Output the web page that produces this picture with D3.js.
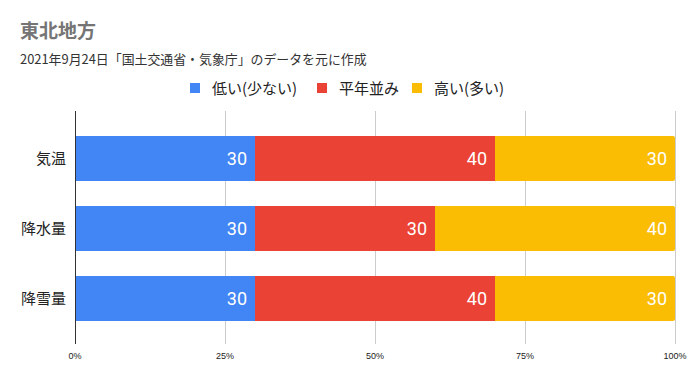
<!DOCTYPE html>
<html>
<head>
<meta charset="utf-8">
<script src="https://cdn.jsdelivr.net/npm/d3@7"></script>
<style>
  body { margin: 0; background: #fff; }
  svg { font-family: "Noto Sans CJK JP", Roboto, Arial, sans-serif; }
</style>
</head>
<body>
<div class="chart"></div>
<script>
const categories = ["気温", "降水量", "降雪量"]
const series_names = ["低い(少ない)", "平年並み", "高い(多い)"]
const series_colors = ["#4285F4", "#EA4335", "#FBBC04"]
const low_values = [30, 30, 30]
const normal_values = [40, 30, 40]
const high_values = [30, 40, 30]
const x_ticks = [0, 0.25, 0.5, 0.75, 1]

const W = 695, H = 382

const svg = d3.select(".chart").append("svg")
    .attr("width", W)
    .attr("height", H)

// title
svg.append("text")
    .attr("x", 20).attr("y", 38)
    .attr("font-size", 19).attr("font-weight", "bold")
    .attr("fill", "#757575")
    .text("東北地方")

svg.append("text")
    .attr("x", 20).attr("y", 64)
    .attr("font-size", 12.9).attr("fill", "#333")
    .text("2021年9月24日「国土交通省・気象庁」のデータを元に作成")

// legend
const legend_x = [190, 317, 412]
series_names.forEach((name, i) => {
    const g = svg.append("g").attr("transform", `translate(${legend_x[i]},83)`)
    g.append("rect").attr("width", 10).attr("height", 10).attr("fill", series_colors[i])
    g.append("text").attr("x", 22).attr("y", 10.5)
        .attr("font-size", 15).attr("fill", "#222")
        .text(name)
})

const rows = categories.map((c, i) => {
    const vals = [low_values[i], normal_values[i], high_values[i]]
    const total = d3.sum(vals)
    let acc = 0
    return {
        cat: c,
        segs: vals.map((v, k) => {
            const s = { k: k, v: v, x0: acc / total, x1: (acc + v) / total }
            acc += v
            return s
        })
    }
})

const x = d3.scaleLinear().domain([0, 1]).range([75, 675])
const y = d3.scaleBand().domain(categories).range([123.5, 333.5])
    .paddingInner(25 / 70).paddingOuter(12.5 / 70)

// gridlines
svg.append("g")
    .selectAll("line")
    .data(x_ticks.slice(1))
    .enter()
    .append("line")
    .attr("x1", d => x(d) + 0.5).attr("x2", d => x(d) + 0.5)
    .attr("y1", 111).attr("y2", 344)
    .attr("stroke", "#ccc")

// bars
const bar_g = svg.append("g")
rows.forEach(r => {
    r.segs.forEach(s => {
        const x0 = x(s.x0), x1 = x(s.x1), yy = y(r.cat), h = y.bandwidth()
        if (s.k == 2) {
            const rr = 2
            bar_g.append("path")
                .attr("d", `M${x0},${yy}H${x1 - rr}Q${x1},${yy} ${x1},${yy + rr}V${yy + h - rr}Q${x1},${yy + h} ${x1 - rr},${yy + h}H${x0}Z`)
                .attr("fill", series_colors[s.k])
        } else {
            bar_g.append("rect")
                .attr("x", x0).attr("y", yy)
                .attr("width", x1 - x0).attr("height", h)
                .attr("fill", series_colors[s.k])
        }
        bar_g.append("text")
            .attr("x", x1 - 8).attr("y", yy + h / 2 + 6.5)
            .attr("text-anchor", "end")
            .style("font-family", "Roboto, Arial, sans-serif")
            .attr("font-size", 18).attr("fill", "#fff")
            .text(s.v)
    })
})

// baseline axis
svg.append("line")
    .attr("x1", 75.5).attr("x2", 75.5)
    .attr("y1", 111).attr("y2", 344)
    .attr("stroke", "#333")

// category labels
svg.append("g")
    .selectAll("text")
    .data(categories)
    .enter()
    .append("text")
    .attr("x", 66)
    .attr("y", d => y(d) + y.bandwidth() / 2 + 5.5)
    .attr("text-anchor", "end")
    .attr("font-size", 15).attr("fill", "#222")
    .text(d => d)

// x tick labels
svg.append("g")
    .selectAll("text")
    .data(x_ticks)
    .enter()
    .append("text")
    .attr("x", d => x(d))
    .attr("y", 359)
    .attr("text-anchor", "middle")
    .style("font-family", "Arial, 'Liberation Sans', sans-serif")
    .attr("font-size", 9).attr("fill", "#222")
    .text(d => d3.format(".0%")(d))
</script>
</body>
</html>
